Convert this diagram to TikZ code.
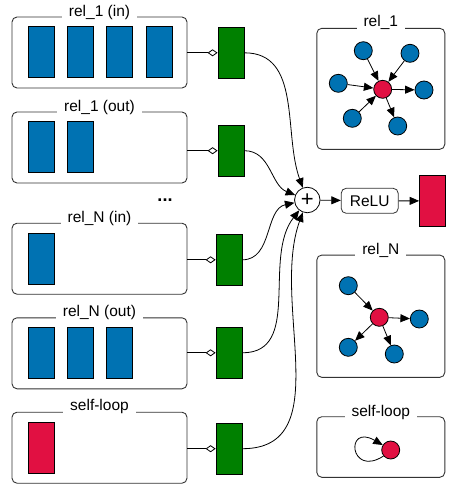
\documentclass[tikz,border=0pt]{standalone}
\usepackage{fontspec}
\setmainfont{Liberation Sans}
\usetikzlibrary{arrows.meta,calc}
\definecolor{cblue}{RGB}{0,114,178}
\definecolor{cgreen}{RGB}{0,128,0}
\definecolor{cred}{RGB}{225,16,66}
\begin{document}
\begin{tikzpicture}[x=1pt,y=-1pt,
  font=\fontsize{15.5}{18}\selectfont,
  grp/.style={draw=black!80, line width=0.9pt, rounded corners=5pt, minimum width=175pt, minimum height=71pt, inner sep=0pt},
  rgrp/.style={draw=black!80, line width=0.9pt, rounded corners=5pt, minimum width=128pt, inner sep=0pt},
  gtitle/.style={fill=white, inner xsep=7pt, inner ysep=1pt},
  feat/.style={draw=black, line width=0.8pt, minimum width=26pt, minimum height=51pt, inner sep=0pt},
  bluef/.style={feat, fill=cblue},
  redf/.style={feat, fill=cred},
  greenf/.style={feat, fill=cgreen},
  vtx/.style={circle, draw=black, line width=0.8pt, minimum size=18pt, inner sep=0pt},
  bv/.style={vtx, fill=cblue},
  rv/.style={vtx, fill=cred},
  conn/.style={draw=black, line width=0.8pt, -{Diamond[open,length=10pt,width=7pt]}},
  arr/.style={draw=black, line width=0.8pt, -{Triangle[length=9.5pt,width=8pt]}},
]
\useasboundingbox (0,0) rectangle (463,496);

% left group boxes
\node[grp] (b1) at (99.5,52.5) {};
\node[grp] (b2) at (99.5,147.5) {};
\node[grp] (b3) at (99.5,258.7) {};
\node[grp] (b4) at (99.5,353.3) {};
\node[grp] (b5) at (99.5,447.7) {};
\node[gtitle] (t1) at ([yshift=4pt]b1.north) {rel\_1 (in)};
\node[gtitle] (t2) at ([yshift=4.5pt]b2.north) {rel\_1 (out)};
\node[gtitle] (t3) at ([yshift=4.5pt]b3.north) {rel\_N (in)};
\node[gtitle] (t4) at ([yshift=4.5pt]b4.north) {rel\_N (out)};
\node[gtitle] (t5) at ([yshift=5pt]b5.north) {self-loop};

% feature rectangles
\node[bluef] (f11) at (41.5,51.5) {};
\node[bluef] (f12) at (80.5,51.5) {};
\node[bluef] (f13) at (119.5,51.5) {};
\node[bluef] (f14) at (159,51.5) {};
\node[bluef] (f21) at (41.5,146.7) {};
\node[bluef] (f22) at (80.5,146.7) {};
\node[bluef] (f31) at (41.5,258.8) {};
\node[bluef] (f41) at (41.5,352.8) {};
\node[bluef] (f42) at (80.5,352.8) {};
\node[bluef] (f43) at (119.5,352.8) {};
\node[redf] (f51) at (41.5,447.8) {};

\node[font=\fontsize{18}{20}\selectfont\bfseries] (dots) at (165,200) {...};

% green transforms
\node[greenf] (g1) at (231,52.8) {};
\node[greenf] (g2) at (231,150.7) {};
\node[greenf] (g3) at (229,259.8) {};
\node[greenf] (g4) at (229,352.8) {};
\node[greenf] (g5) at (229,448.7) {};

\draw[conn] (b1.east |- g1.west) -- (g1.west);
\draw[conn] (b2.east |- g2.west) -- (g2.west);
\draw[conn] (b3.east |- g3.west) -- (g3.west);
\draw[conn] (b4.east |- g4.west) -- (g4.west);
\draw[conn] (b5.east |- g5.west) -- (g5.west);

% sum, relu, output
\node[circle, draw=black, line width=0.8pt, minimum size=25.5pt, inner sep=0pt, font=\fontsize{22}{22}\selectfont] (plus) at (307.3,200) {+};
\node[draw=black!80, line width=0.8pt, rounded corners=5pt, minimum width=57pt, minimum height=25pt, inner sep=0pt] (relu) at (369.7,200.8) {ReLU};
\node[redf, minimum height=50.3pt] (out) at (432.5,200.9) {};

\draw[arr] (g1.east) to[out=0,in=110] (plus);
\draw[arr] (g2.east) to[out=0,in=158] (plus);
\draw[arr] (g3.east) to[out=0,in=192] (plus);
\draw[arr] (g4.east) to[out=0,in=232] (plus);
\draw[arr] (g5.east) to[out=0,in=250] (plus);
\draw[arr] (plus) -- (relu);
\draw[arr] (relu) -- (out);

% right boxes
\node[rgrp, minimum height=121pt] (r1) at (380.8,88.8) {};
\node[rgrp, minimum height=122.3pt] (r2) at (380.8,316.2) {};
\node[rgrp, minimum height=60.6pt] (r3) at (380.8,447) {};
\node[gtitle] (rt1) at ([yshift=5pt]r1.north) {rel\_1};
\node[gtitle] (rt2) at ([yshift=4pt]r2.north) {rel\_N};
\node[gtitle] (rt3) at ([yshift=4pt]r3.north) {self-loop};

% rel_1 graph
\node[rv] (c1) at (382.7,89.3) {};
\node[bv] (a1) at (363.3,50.7) {};
\node[bv] (a2) at (410,53.3) {};
\node[bv] (a3) at (338.3,83.3) {};
\node[bv] (a4) at (424,90) {};
\node[bv] (a5) at (352.3,118.3) {};
\node[bv] (a6) at (397.7,126) {};
\draw[arr] (a1) -- (c1);
\draw[arr] (a2) -- (c1);
\draw[arr] (a3) -- (c1);
\draw[arr] (a5) -- (c1);
\draw[arr] (c1) -- (a4);
\draw[arr] (c1) -- (a6);

% rel_N graph
\node[rv] (c2) at (379.3,317.3) {};
\node[bv] (n1) at (348.3,285.7) {};
\node[bv] (n2) at (419.3,319) {};
\node[bv] (n3) at (348.3,347.3) {};
\node[bv] (n4) at (394.3,354) {};
\draw[arr] (n1) -- (c2);
\draw[arr] (c2) -- (n2);
\draw[arr] (c2) -- (n3);
\draw[arr] (c2) -- (n4);

% self-loop graph
\node[rv] (c3) at (390.7,450) {};
\draw[arr] (c3.220) .. controls +(-34,22) and +(-38,-22) .. (c3.148);
\end{tikzpicture}
\end{document}
